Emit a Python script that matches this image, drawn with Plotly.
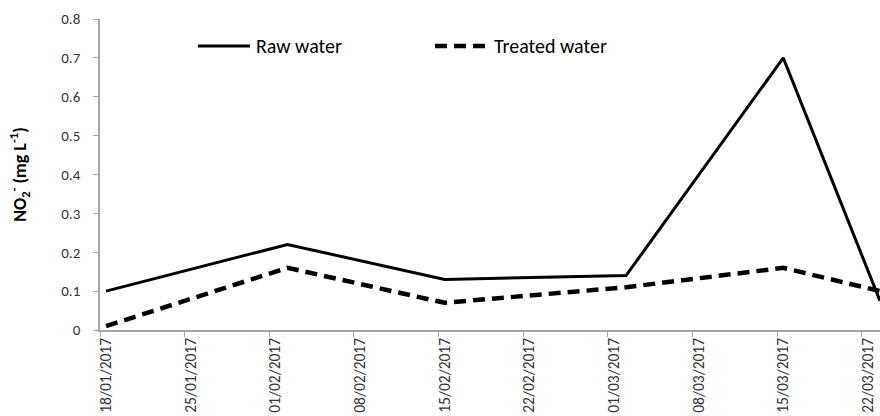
import plotly.graph_objects as go

# Sampling dates (mid-day) and NO2- concentrations, mg/L
sample_dates = ["2017-01-18 12:00", "2017-02-02 12:00", "2017-02-15 12:00",
                "2017-03-02 12:00", "2017-03-15 12:00", "2017-03-23 12:00"]
raw_water = [0.10, 0.22, 0.13, 0.14, 0.70, 0.075]
treated_water = [0.01, 0.16, 0.07, 0.11, 0.16, 0.10]

# Weekly axis ticks
tick_dates = ["2017-01-18", "2017-01-25", "2017-02-01", "2017-02-08", "2017-02-15",
              "2017-02-22", "2017-03-01", "2017-03-08", "2017-03-15", "2017-03-22"]
tick_labels = ["18/01/2017", "25/01/2017", "01/02/2017", "08/02/2017", "15/02/2017",
               "22/02/2017", "01/03/2017", "08/03/2017", "15/03/2017", "22/03/2017"]
y_ticks = [0, 0.1, 0.2, 0.3, 0.4, 0.5, 0.6, 0.7, 0.8]
y_tick_labels = ["0", "0.1", "0.2", "0.3", "0.4", "0.5", "0.6", "0.7", "0.8"]

series_names = ["Raw water", "Treated water"]

FONT = "Carlito, Lato, 'Open Sans', sans-serif"
AXIS_GRAY = "#a6a6a6"
TEXT_GRAY = "#333333"
RAW_LINE = dict(color="black", width=3)
TREATED_LINE = dict(color="black", width=4.5, dash="12px,7px")

fig = go.Figure()
fig.add_trace(go.Scatter(x=sample_dates, y=raw_water, mode="lines",
                         name=series_names[0], line=RAW_LINE))
fig.add_trace(go.Scatter(x=sample_dates, y=treated_water, mode="lines",
                         name=series_names[1], line=TREATED_LINE))

# Key across the top of the plot: a long line sample followed by its label
legend_y = 0.913
for (x0, x1, tx), name, style in zip(
        [(0.1256, 0.1923, 0.1975), (0.4295, 0.4974, 0.5026)],
        series_names, [RAW_LINE, TREATED_LINE]):
    fig.add_shape(type="line", xref="paper", yref="paper",
                  x0=x0, x1=x1, y0=legend_y, y1=legend_y, line=style)
    fig.add_annotation(xref="paper", yref="paper", x=tx, y=legend_y,
                       text=name, showarrow=False, xanchor="left", yanchor="middle",
                       font=dict(size=20, color="black"))

fig.update_layout(
    width=880, height=416,
    margin=dict(l=100, r=0, t=19, b=86, pad=0),
    paper_bgcolor="white", plot_bgcolor="white",
    font=dict(family=FONT, size=15, color=TEXT_GRAY),
    showlegend=False,
    xaxis=dict(
        type="date",
        range=["2017-01-18", "2017-03-23 12:00"],
        tickmode="array", tickvals=tick_dates, ticktext=tick_labels,
        tickangle=-90, ticks="outside", ticklen=5, tickcolor=AXIS_GRAY,
        ticklabelshift=6, ticklabelstandoff=-5,
        showline=True, linecolor=AXIS_GRAY, linewidth=1.5,
        showgrid=False, zeroline=False,
        tickfont=dict(size=15.5, color=TEXT_GRAY),
    ),
    yaxis=dict(
        range=[0, 0.8],
        tickmode="array", tickvals=y_ticks, ticktext=y_tick_labels,
        ticks="outside", ticklen=5, tickcolor=AXIS_GRAY,
        ticklabelstandoff=10,
        showline=True, linecolor=AXIS_GRAY, linewidth=1.5,
        showgrid=False, zeroline=False,
        tickfont=dict(size=15, color=TEXT_GRAY),
        title=dict(
            text="<b>NO<sub>2</sub><sup>-</sup> (mg L<sup>-1</sup>)</b>",
            font=dict(size=18, color="black"), standoff=30,
        ),
    ),
)

fig.write_html("out.html")
